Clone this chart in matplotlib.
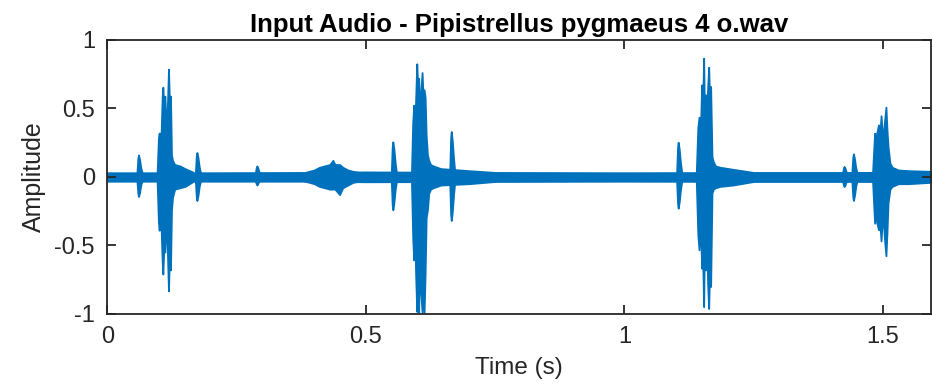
#!/usr/bin/env python3
"""Waveform plot of a bat call recording (min/max envelope read off the figure)."""
import matplotlib
matplotlib.use("Agg")
import matplotlib.pyplot as plt

plt.rcParams["font.family"] = ["Liberation Sans", "DejaVu Sans"]
plt.rcParams["axes.unicode_minus"] = False

TITLE = "Input Audio - Pipistrellus pygmaeus 4 o.wav"
DURATION = 1.593

# background noise band (s, upper, lower)
base_t = [0.0, 0.20, 0.38, 0.50, 0.75, 1.00, 1.25, 1.45, 1.593]
base_hi = [0.030, 0.030, 0.032, 0.036, 0.032, 0.030, 0.032, 0.032, 0.036]
base_lo = [-0.032, -0.032, -0.032, -0.036, -0.034, -0.032, -0.034, -0.034, -0.036]

# low-level hump around 0.44 s
hump_t = [0.380, 0.400, 0.410, 0.420, 0.430, 0.436, 0.440, 0.449, 0.455, 0.465, 0.475, 0.490]
hump_hi = [0.03, 0.05, 0.07, 0.08, 0.09, 0.12, 0.09, 0.09, 0.07, 0.05, 0.04, 0.03]
hump_lo = [-0.03, -0.05, -0.07, -0.08, -0.09, -0.09, -0.09, -0.13, -0.08, -0.06, -0.04, -0.03]

# short single pulses: centre time, peak up, peak down
pulse_t = [0.060, 0.173, 0.289, 0.552, 0.665, 1.104, 1.425, 1.443]
pulse_hi = [0.160, 0.178, 0.080, 0.256, 0.331, 0.253, 0.076, 0.168]
pulse_lo = [-0.144, -0.173, -0.060, -0.241, -0.319, -0.229, -0.071, -0.173]

# main calls
call1_t = [0.0960, 0.0985, 0.1000, 0.1020, 0.1040, 0.1058, 0.1071, 0.1090, 0.1110, 0.1130,
           0.1150, 0.1167, 0.1180, 0.1200, 0.1219, 0.1238, 0.1258, 0.1300, 0.1400, 0.1500, 0.1650]
call1_hi = [0.03, 0.28, 0.32, 0.18, 0.35, 0.58, 0.655, 0.52, 0.59, 0.42,
            0.40, 0.62, 0.787, 0.52, 0.59, 0.16, 0.12, 0.09, 0.08, 0.06, 0.035]
call1_lo = [-0.03, -0.33, -0.39, -0.20, -0.40, -0.62, -0.71, -0.52, -0.55, -0.38,
            -0.42, -0.66, -0.833, -0.55, -0.68, -0.24, -0.15, -0.09, -0.08, -0.07, -0.035]

call2_t = [0.5880, 0.5905, 0.5925, 0.5945, 0.5960, 0.5983, 0.6000, 0.6020, 0.6040, 0.6060, 0.6086,
           0.6105, 0.6125, 0.6145, 0.6165, 0.6190, 0.6215, 0.6250, 0.6300, 0.6450, 0.7000, 0.7500]
call2_hi = [0.03, 0.40, 0.524, 0.30, 0.55, 0.826, 0.68, 0.72, 0.40, 0.62, 0.762,
            0.58, 0.636, 0.58, 0.30, 0.16, 0.12, 0.09, 0.08, 0.06, 0.045, 0.032]
call2_lo = [-0.03, -0.45, -0.607, -0.30, -0.70, -0.984, -0.80, -0.99, -0.45, -0.85, -0.99,
            -0.75, -0.99, -0.70, -0.30, -0.24, -0.12, -0.09, -0.08, -0.06, -0.05, -0.034]

call3_t = [1.1390, 1.1420, 1.1443, 1.1468, 1.1494, 1.1514, 1.1533, 1.1550, 1.1570, 1.1590,
           1.1610, 1.1630, 1.1649, 1.1668, 1.1694, 1.1720, 1.1760, 1.1850, 1.2100, 1.2500]
call3_hi = [0.03, 0.36, 0.436, 0.30, 0.672, 0.55, 0.867, 0.40, 0.60, 0.45,
            0.65, 0.801, 0.55, 0.66, 0.148, 0.11, 0.08, 0.07, 0.055, 0.032]
call3_lo = [-0.03, -0.42, -0.533, -0.32, -0.667, -0.60, -0.948, -0.40, -0.68, -0.45,
            -0.78, -0.962, -0.65, -0.801, -0.119, -0.09, -0.08, -0.07, -0.06, -0.034]

call4_t = [1.4800, 1.4840, 1.4860, 1.4880, 1.4915, 1.4940, 1.4965, 1.4985, 1.5010, 1.5030,
           1.5059, 1.5080, 1.5100, 1.5137, 1.5180, 1.5300, 1.5500, 1.5930]
call4_hi = [0.03, 0.319, 0.22, 0.32, 0.380, 0.30, 0.446, 0.34, 0.30, 0.40,
            0.509, 0.34, 0.222, 0.100, 0.07, 0.05, 0.045, 0.04]
call4_lo = [-0.03, -0.339, -0.22, -0.33, -0.387, -0.34, -0.468, -0.34, -0.32, -0.45,
            -0.577, -0.40, -0.192, -0.090, -0.07, -0.05, -0.05, -0.04]

BLUE = "#0072BD"
AXC = "#262626"

fig = plt.figure(figsize=(9.33, 3.88), dpi=100)
ax = fig.add_axes([0.1152, 0.1915, 0.8826, 0.7055])


def envelope(t, hi, lo):
    ax.fill_between(t, lo, hi, color=BLUE, lw=1.3, edgecolor=BLUE)


envelope(base_t, base_hi, base_lo)
envelope(hump_t, hump_hi, hump_lo)
for t, hi, lo in zip(pulse_t, pulse_hi, pulse_lo):
    # sharp onset, slightly slower decay
    envelope([t - 0.003, t - 0.0012, t, t + 0.002, t + 0.0045, t + 0.007],
             [0.03, hi * 0.85, hi, hi * 0.8, hi * 0.4, 0.03],
             [-0.03, lo * 0.85, lo, lo * 0.8, lo * 0.4, -0.03])
envelope(call1_t, call1_hi, call1_lo)
envelope(call2_t, call2_hi, call2_lo)
envelope(call3_t, call3_hi, call3_lo)
envelope(call4_t, call4_hi, call4_lo)

ax.set_xlim(0, DURATION)
ax.set_ylim(-1, 1)
ax.set_xticks([0, 0.5, 1, 1.5])
ax.set_xticklabels(["0", "0.5", "1", "1.5"])
ax.set_yticks([-1, -0.5, 0, 0.5, 1])
ax.set_yticklabels(["-1", "-0.5", "0", "0.5", "1"])

for s in ax.spines.values():
    s.set_color(AXC)
    s.set_linewidth(1.3)
ax.tick_params(direction="in", length=6.5, width=1.3, color=AXC,
               top=True, right=True, labelsize=17, labelcolor=AXC, pad=9)

ax.set_xlabel("Time (s)", fontsize=17.5, color=AXC, labelpad=6)
ax.set_ylabel("Amplitude", fontsize=18, color=AXC, labelpad=6)
ax.set_title(TITLE, fontsize=18.5, fontweight="bold", color="black", pad=6)

fig.savefig("out.png", dpi=100)
